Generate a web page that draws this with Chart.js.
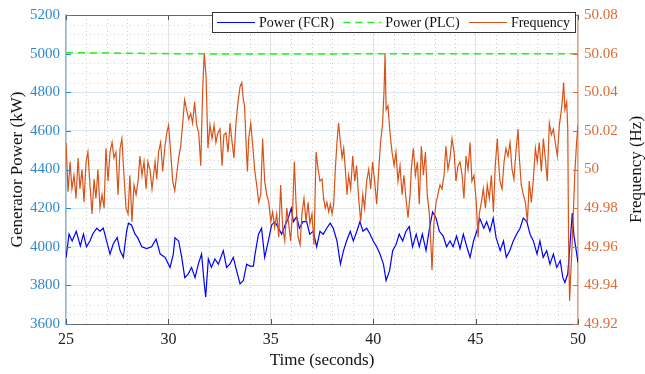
<!DOCTYPE html>
<html>
<head>
<meta charset="utf-8">
<script src="https://cdn.jsdelivr.net/npm/chart.js@4.4.1/dist/chart.umd.min.js"></script>
<style>
  html, body { margin: 0; padding: 0; background: #fff; }
  #wrap { width: 645px; height: 374px; }
</style>
</head>
<body>
<div id="wrap"><canvas id="chart" width="645" height="374"></canvas></div>
<script>
/* ── data ── */
const fcrTime = [25.0,25.15,25.3,25.5,25.7,25.85,26.0,26.17,26.3,26.5,26.66,26.82,26.98,27.15,27.3,27.5,27.64,27.8,27.96,28.05,28.2,28.37,28.5,28.7,28.94,29.18,29.4,29.6,29.84,30.08,30.24,30.32,30.5,30.65,30.8,30.97,31.13,31.3,31.46,31.62,31.74,31.82,31.95,32.1,32.27,32.44,32.68,32.84,33.0,33.17,33.33,33.5,33.66,33.82,33.98,34.15,34.23,34.4,34.55,34.7,34.88,35.04,35.2,35.38,35.53,35.7,35.85,36.0,36.1,36.26,36.4,36.57,36.75,36.9,37.07,37.24,37.4,37.56,37.73,37.9,38.05,38.23,38.4,38.55,38.7,38.88,39.03,39.2,39.35,39.5,39.68,39.85,40.0,40.17,40.33,40.5,40.63,40.8,40.95,41.12,41.27,41.44,41.6,41.76,41.92,42.1,42.25,42.4,42.58,42.75,42.9,43.07,43.23,43.42,43.58,43.75,43.9,44.07,44.24,44.4,44.57,44.73,44.9,45.06,45.2,45.4,45.54,45.7,45.86,46.0,46.2,46.36,46.5,46.67,46.84,47.0,47.17,47.33,47.5,47.66,47.82,48.0,48.14,48.3,48.47,48.63,48.8,48.96,49.13,49.26,49.36,49.5,49.6,49.72,49.8,50.0];
const fcrPower = [3942,4065,4030,4080,4004,4065,4000,4030,4065,4096,4080,4096,4030,3962,4013,4047,3980,3945,4080,4122,4113,4065,4047,4000,3990,4000,4040,3962,3945,3893,3962,4047,4030,3945,3840,3860,3893,3840,3910,3962,3820,3740,3937,3893,3937,3910,3980,3893,3910,3945,3876,3808,3825,3910,3900,3900,3962,4065,4096,3945,4030,4113,4130,4096,4065,4113,4148,4200,4130,4155,4096,4130,4130,4065,4080,4000,4080,4065,4096,4122,4096,4030,3910,3980,4030,4080,4030,4080,4130,4080,4096,4065,4030,4000,3962,3910,3825,3876,3980,4013,4065,4030,4080,4105,4000,4065,4000,4065,3980,4096,4180,4148,4080,4055,4000,4030,4000,4055,3990,4065,4000,3945,4030,4080,4148,4096,4130,4080,4148,4047,3980,4030,3945,3980,4030,4065,4096,4148,4130,4065,4030,3962,4030,3945,3980,3910,3962,3893,3928,3840,3815,3860,4000,4174,4060,3918];

const plcTime  = [25, 27, 29, 31, 33, 35, 40, 45, 50];
const plcPower = [5005, 5003, 5001, 4999, 4998, 4998, 4999, 5000, 5000];

const freqTime = [25.0,25.1,25.2,25.29,25.39,25.49,25.59,25.68,25.78,25.88,25.98,26.07,26.17,26.27,26.37,26.46,26.56,26.66,26.76,26.86,26.95,27.05,27.15,27.25,27.34,27.44,27.54,27.64,27.73,27.83,27.93,28.03,28.12,28.22,28.32,28.42,28.52,28.61,28.71,28.81,28.91,29.0,29.1,29.2,29.35,29.43,29.52,29.62,29.72,29.82,29.92,30.01,30.11,30.21,30.31,30.4,30.5,30.6,30.7,30.79,30.89,30.99,31.09,31.18,31.28,31.38,31.48,31.58,31.67,31.75,31.84,31.93,32.03,32.13,32.23,32.32,32.42,32.52,32.62,32.71,32.81,32.91,33.01,33.11,33.2,33.3,33.4,33.5,33.58,33.66,33.72,33.79,33.86,33.92,34.02,34.12,34.21,34.31,34.41,34.51,34.6,34.7,34.8,34.9,35.0,35.09,35.19,35.29,35.39,35.48,35.58,35.68,35.78,35.87,35.97,36.07,36.15,36.23,36.33,36.43,36.52,36.62,36.72,36.82,36.91,37.01,37.11,37.21,37.31,37.4,37.5,37.58,37.66,37.74,37.83,37.91,37.99,38.07,38.15,38.23,38.31,38.4,38.48,38.56,38.64,38.72,38.8,38.9,39.0,39.1,39.19,39.29,39.39,39.49,39.58,39.68,39.78,39.88,39.97,40.07,40.17,40.27,40.36,40.46,40.53,40.58,40.63,40.72,40.82,40.92,41.02,41.11,41.21,41.31,41.41,41.5,41.6,41.7,41.8,41.86,41.96,42.06,42.16,42.25,42.35,42.45,42.55,42.64,42.74,42.84,42.87,42.97,43.07,43.16,43.26,43.36,43.46,43.55,43.65,43.75,43.85,43.95,44.04,44.14,44.24,44.34,44.43,44.53,44.63,44.73,44.82,44.92,45.02,45.12,45.18,45.28,45.38,45.48,45.57,45.67,45.77,45.87,45.96,46.06,46.12,46.19,46.29,46.39,46.48,46.58,46.68,46.78,46.87,46.97,47.07,47.13,47.23,47.33,47.43,47.53,47.62,47.72,47.82,47.92,48.01,48.11,48.21,48.31,48.4,48.5,48.6,48.7,48.8,48.89,48.99,49.09,49.19,49.25,49.3,49.36,49.45,49.5,49.54,49.59,49.72,49.84,49.93,50.0];
const freqHz = [50.014,49.9885,50.004,49.990,49.997,49.985,50.006,49.990,50.000,49.983,50.004,50.009,49.992,49.977,49.995,49.985,50.000,49.980,49.987,49.980,50.011,49.994,50.009,50.014,50.006,50.009,49.987,50.011,50.016,49.997,49.980,49.977,49.997,49.973,49.992,49.987,49.994,50.007,49.997,50.004,49.990,50.004,50.000,49.990,50.004,49.995,50.009,50.014,49.999,50.011,50.019,50.023,50.009,49.994,49.989,49.997,50.006,50.012,50.024,50.036,50.031,50.026,50.029,50.024,50.035,50.023,50.019,50.002,50.040,50.060,50.048,50.011,50.023,50.016,50.023,50.014,50.019,50.021,50.002,50.018,50.019,50.009,50.024,50.014,50.006,50.024,50.035,50.043,50.045,50.036,50.033,50.014,49.999,50.016,50.024,50.012,50.000,49.992,49.983,49.987,50.016,49.994,49.987,49.983,49.973,49.978,49.970,49.977,49.965,49.992,49.970,49.963,49.980,49.972,49.963,49.980,50.004,49.983,49.965,49.961,49.977,49.985,49.973,49.983,49.972,49.977,49.961,50.009,50.000,49.994,49.995,49.985,49.980,49.983,49.978,49.982,49.977,49.982,50.000,50.014,50.024,50.014,50.006,50.011,50.000,49.987,49.997,49.990,50.007,49.994,50.002,49.985,49.973,49.987,49.980,49.994,50.000,49.990,50.004,49.994,49.982,50.000,50.014,50.024,50.041,50.060,50.031,50.033,50.019,50.009,50.002,50.009,49.994,50.002,49.987,49.997,49.985,49.975,49.987,50.000,50.011,49.997,50.004,49.982,50.012,49.997,50.009,49.987,49.977,49.956,49.948,49.973,49.983,49.987,49.992,49.990,49.997,50.012,50.000,50.006,50.016,50.009,49.994,50.002,50.004,49.997,49.985,50.007,50.000,50.014,49.994,49.997,49.985,49.965,49.977,49.983,49.990,49.980,49.992,49.985,49.997,49.978,50.002,50.016,50.004,49.994,49.990,50.004,50.011,50.007,50.014,50.000,49.995,50.009,50.021,50.007,49.992,49.987,49.983,49.973,49.994,49.983,49.995,50.011,50.004,50.014,49.999,50.016,50.006,49.994,50.024,50.018,50.021,50.014,50.007,50.023,50.031,50.038,50.045,50.031,50.035,50.021,49.963,49.932,49.963,49.997,50.014,50.023];

const seriesNames = ['Power (FCR)', 'Power (PLC)', 'Frequency'];
const xTitle = 'Time (seconds)';
const yTitle = 'Generator Power (kW)';
const y1Title = 'Frequency (Hz)';

/* ── colours ── */
const BLUE   = '#0000ff';
const GREEN  = '#22ee22';
const ORANGE = '#d95319';
const LEFT_TXT  = '#2f8ad0';
const LEFT_AX   = '#82bbe4';
const RIGHT_TXT = '#df6a34';
const RIGHT_AX  = '#eda27f';
const SERIF = "'Liberation Serif', 'Times New Roman', serif";

Chart.defaults.font.family = SERIF;
const tickFont = size => ({ family: SERIF, size });

const toXY = (xs, ys) => xs.map((x, i) => ({ x, y: ys[i] }));

/* ── extras: minor grid, inner ticks, box, legend, right title ── */
const extras = {
  id: 'extras',
  beforeDatasetsDraw(chart) {
    const { ctx, chartArea: a, scales: { x, y } } = chart;
    ctx.save();
    ctx.strokeStyle = '#d2d2d2';
    ctx.lineWidth = 1;
    ctx.setLineDash([1, 3]);
    for (let t = 26; t < 50; t++) {
      if (t % 5 === 0) continue;
      const px = Math.round(x.getPixelForValue(t)) + 0.5;
      ctx.beginPath(); ctx.moveTo(px, a.top); ctx.lineTo(px, a.bottom); ctx.stroke();
    }
    for (let p = 3650; p < 5200; p += 50) {
      if (p % 200 === 0) continue;
      const py = Math.round(y.getPixelForValue(p)) + 0.5;
      ctx.beginPath(); ctx.moveTo(a.left, py); ctx.lineTo(a.right, py); ctx.stroke();
    }
    ctx.restore();
  },
  afterDraw(chart) {
    const { ctx, chartArea: a, scales: { x, y, y1 } } = chart;
    ctx.save();
    // top box edge
    ctx.strokeStyle = '#666';
    ctx.lineWidth = 1;
    ctx.beginPath(); ctx.moveTo(a.left, a.top + 0.5); ctx.lineTo(a.right, a.top + 0.5); ctx.stroke();

    // inward tick marks
    const tl = 5;
    ctx.strokeStyle = '#555';
    x.ticks.forEach(t => {
      const px = Math.round(x.getPixelForValue(t.value)) + 0.5;
      ctx.beginPath(); ctx.moveTo(px, a.bottom); ctx.lineTo(px, a.bottom - tl); ctx.stroke();
      ctx.beginPath(); ctx.moveTo(px, a.top); ctx.lineTo(px, a.top + tl); ctx.stroke();
    });
    ctx.strokeStyle = LEFT_TXT;
    y.ticks.forEach(t => {
      const py = Math.round(y.getPixelForValue(t.value)) + 0.5;
      ctx.beginPath(); ctx.moveTo(a.left, py); ctx.lineTo(a.left + tl, py); ctx.stroke();
    });
    ctx.strokeStyle = RIGHT_TXT;
    y1.ticks.forEach(t => {
      const py = Math.round(y1.getPixelForValue(t.value)) + 0.5;
      ctx.beginPath(); ctx.moveTo(a.right, py); ctx.lineTo(a.right - tl, py); ctx.stroke();
    });

    // legend box inside the plot, top right
    const bx = 212, by = 12, bw = a.right - 3 - bx, bh = 20;
    ctx.fillStyle = '#fff';
    ctx.fillRect(bx, by, bw, bh);
    ctx.strokeStyle = '#333';
    ctx.setLineDash([]);
    ctx.strokeRect(bx + 0.5, by + 0.5, bw, bh);
    ctx.font = '14px ' + SERIF;
    ctx.textBaseline = 'middle';
    ctx.textAlign = 'left';
    const cy = by + bh / 2 + 0.5;
    const lineLen = 38, gapIn = 4;
    const textW = chart.data.datasets.reduce((s, ds) => s + ctx.measureText(ds.label).width, 0);
    const n = chart.data.datasets.length;
    const gapOut = (bw - 10 - textW - n * (lineLen + gapIn)) / (n - 1);
    let cx = bx + 5;
    chart.data.datasets.forEach(ds => {
      ctx.strokeStyle = ds.borderColor;
      ctx.lineWidth = ds.borderWidth;
      ctx.setLineDash(ds.borderDash || []);
      ctx.beginPath(); ctx.moveTo(cx, cy); ctx.lineTo(cx + lineLen, cy); ctx.stroke();
      ctx.setLineDash([]);
      cx += lineLen + gapIn;
      ctx.fillStyle = '#111';
      ctx.fillText(ds.label, cx, cy + 1);
      cx += ctx.measureText(ds.label).width + gapOut;
    });

    // right axis title, reading bottom to top
    ctx.translate(637, (a.top + a.bottom) / 2);
    ctx.rotate(-Math.PI / 2);
    ctx.textAlign = 'center';
    ctx.fillStyle = '#111';
    ctx.font = '17px ' + SERIF;
    ctx.fillText(y1Title, 0, 0);
    ctx.restore();
  }
};

new Chart(document.getElementById('chart'), {
  type: 'line',
  data: {
    datasets: [
      {
        label: seriesNames[0],
        data: toXY(fcrTime, fcrPower),
        borderColor: BLUE,
        borderWidth: 1.2,
        yAxisID: 'y',
        order: 1,
      },
      {
        label: seriesNames[1],
        data: toXY(plcTime, plcPower),
        borderColor: GREEN,
        borderWidth: 1.5,
        borderDash: [7, 5],
        yAxisID: 'y',
        order: 2,
      },
      {
        label: seriesNames[2],
        data: toXY(freqTime, freqHz),
        borderColor: ORANGE,
        borderWidth: 1.2,
        yAxisID: 'y1',
        order: 0,
      }
    ]
  },
  options: {
    responsive: false,
    animation: false,
    devicePixelRatio: 1,
    layout: { padding: { top: 11, left: 0, right: 0, bottom: 0 } },
    elements: { point: { radius: 0 }, line: { tension: 0 } },
    plugins: { legend: { display: false }, tooltip: { enabled: false } },
    scales: {
      x: {
        type: 'linear',
        min: 25, max: 50,
        afterFit: s => { s.height = 50; },
        ticks: { stepSize: 5, color: '#222', font: tickFont(16), padding: 6, maxRotation: 0 },
        grid: { color: '#e2e2e2', drawTicks: false },
        border: { color: '#666' },
        title: { display: true, text: xTitle, color: '#111', font: tickFont(17), padding: { top: 0, bottom: 3 } }
      },
      y: {
        position: 'left',
        min: 3600, max: 5200,
        afterFit: s => { s.width = 66; },
        ticks: { stepSize: 200, color: LEFT_TXT, font: tickFont(15), padding: 6, callback: v => String(v) },
        grid: { color: '#dde7ef', drawTicks: false },
        border: { color: LEFT_AX, width: 1.5 },
        title: { display: true, text: yTitle, color: '#111', font: tickFont(17), padding: { top: 7, bottom: 0 } }
      },
      y1: {
        position: 'right',
        min: 49.92, max: 50.08,
        afterFit: s => { s.width = 67; },
        ticks: {
          stepSize: 0.02, color: RIGHT_TXT, font: tickFont(15), padding: 6,
          callback: v => String(+v.toFixed(2))
        },
        grid: { drawOnChartArea: false, drawTicks: false },
        border: { color: RIGHT_AX, width: 1.5 }
      }
    }
  },
  plugins: [extras]
});
</script>
</body>
</html>
